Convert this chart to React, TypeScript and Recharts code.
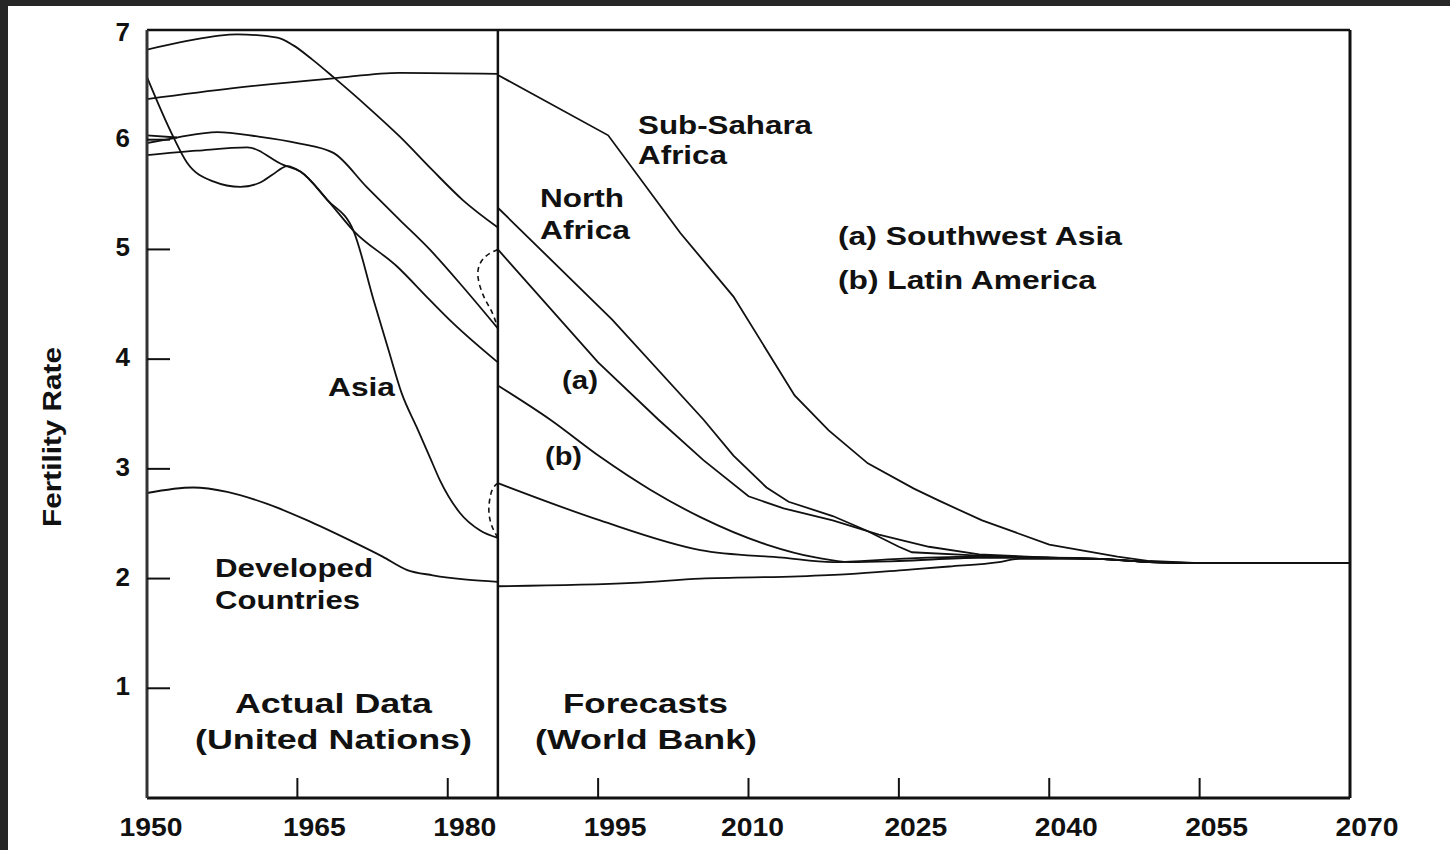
import React from 'react';
import { LineChart, Line, XAxis, YAxis, ReferenceLine, Customized } from 'recharts';

// ---------- data (year, fertility rate) ----------
const xTicks = [1950, 1965, 1980, 1995, 2010, 2025, 2040, 2055, 2070];
const yTicks = [1, 2, 3, 4, 5, 6, 7];

// Actual data (United Nations)
const naActYears = [1950, 1954, 1959, 1963, 1964.6, 1966.5, 1968.6, 1972, 1975.2, 1978.5, 1981.5, 1985];
const naAct = [6.82, 6.9, 6.96, 6.93, 6.86, 6.73, 6.57, 6.3, 6.03, 5.72, 5.45, 5.2];

const ssaActYears = [1950, 1958.6, 1968.6, 1975.2, 1985];
const ssaAct = [6.37, 6.47, 6.56, 6.61, 6.6];

const asiaActYears = [1950, 1952.6, 1954, 1956.6, 1959.3, 1961.3, 1962.5, 1964, 1965.3, 1968, 1970.6, 1972.6, 1974.1, 1975.4, 1976.9, 1978.2, 1979.2, 1981.2, 1983.2, 1985];
const asiaAct = [6.57, 6.03, 5.79, 5.62, 5.57, 5.61, 5.68, 5.76, 5.71, 5.45, 5.17, 4.54, 4.08, 3.69, 3.38, 3.11, 2.9, 2.6, 2.44, 2.37];

const laActYears = [1950, 1955, 1960, 1963.6, 1965.3, 1968, 1970.6, 1975, 1978.2, 1980.5, 1985];
const laAct = [5.86, 5.9, 5.93, 5.77, 5.71, 5.45, 5.17, 4.84, 4.54, 4.33, 3.97];

const swaActYears = [1950, 1953, 1957, 1961, 1965, 1968.6, 1971.9, 1975.2, 1978.2, 1981.5, 1985];
const swaAct = [5.97, 6.02, 6.07, 6.03, 5.97, 5.88, 5.57, 5.27, 5.0, 4.66, 4.28];

const swaAltYears = [1950, 1953];
const swaAlt = [6.04, 6.02];

const devActYears = [1950, 1954.6, 1958, 1962, 1966, 1970.2, 1973.5, 1975.9, 1978.5, 1981.9, 1985];
const devAct = [2.78, 2.83, 2.79, 2.68, 2.53, 2.35, 2.2, 2.08, 2.03, 1.99, 1.97];

// Forecasts (World Bank)
const ssaFcYears = [1985, 1996, 2003.2, 2008.5, 2014.6, 2018, 2021.9, 2026.5, 2029, 2033.3, 2040, 2046.8, 2050, 2055, 2070];
const ssaFc = [6.59, 6.04, 5.15, 4.57, 3.67, 3.35, 3.05, 2.82, 2.71, 2.53, 2.31, 2.2, 2.16, 2.14, 2.14];

const naFcYears = [1985, 1996.4, 2005.5, 2008.5, 2011.8, 2014, 2018.4, 2021.7, 2025, 2026.3, 2033, 2040, 2045, 2050, 2055, 2070];
const naFc = [5.38, 4.36, 3.45, 3.12, 2.83, 2.7, 2.57, 2.44, 2.29, 2.24, 2.21, 2.19, 2.18, 2.15, 2.14, 2.14];

const swaFcYears = [1985, 1995, 2001, 2005.5, 2010, 2013.5, 2018.4, 2023, 2028, 2033, 2040, 2045, 2050, 2055, 2070];
const swaFc = [5.0, 3.97, 3.45, 3.08, 2.75, 2.64, 2.53, 2.4, 2.29, 2.22, 2.19, 2.18, 2.15, 2.14, 2.14];

const laFcYears = [1985, 1990.2, 1995.2, 2000.2, 2005.2, 2011.8, 2016.8, 2020.1, 2025, 2033, 2040, 2045, 2050, 2055, 2070];
const laFc = [3.76, 3.45, 3.11, 2.81, 2.56, 2.31, 2.19, 2.15, 2.16, 2.19, 2.19, 2.18, 2.15, 2.14, 2.14];

const asiaFcYears = [1985, 1995.2, 2005.2, 2013.4, 2018.4, 2025, 2033, 2040, 2045, 2050, 2055, 2070];
const asiaFc = [2.87, 2.53, 2.26, 2.19, 2.15, 2.18, 2.2, 2.19, 2.18, 2.15, 2.14, 2.14];

const devFcYears = [1985, 1998.5, 2005.2, 2015, 2020, 2025.8, 2030, 2035, 2037, 2045, 2050, 2055, 2070];
const devFc = [1.93, 1.96, 2.0, 2.02, 2.04, 2.08, 2.11, 2.15, 2.18, 2.18, 2.15, 2.14, 2.14];

// dashed links between actual and forecast values
const swaLinkYears = [1985, 1983.7, 1983, 1983.6, 1984.4, 1985];
const swaLink = [5.0, 4.93, 4.78, 4.57, 4.43, 4.28];
const asiaLinkYears = [1985, 1984.4, 1984.1, 1984.4, 1985];
const asiaLink = [2.87, 2.8, 2.63, 2.48, 2.37];

const DIVIDER_YEAR = 1985;

// ---------- helpers ----------
const pts = (years: number[], vals: number[]) => years.map((year, i) => ({ year, v: vals[i] }));

const solidSeries = [
  { id: 'naAct', data: pts(naActYears, naAct), curve: 'monotone' },
  { id: 'ssaAct', data: pts(ssaActYears, ssaAct), curve: 'monotone' },
  { id: 'asiaAct', data: pts(asiaActYears, asiaAct), curve: 'monotone' },
  { id: 'laAct', data: pts(laActYears, laAct), curve: 'monotone' },
  { id: 'swaAct', data: pts(swaActYears, swaAct), curve: 'monotone' },
  { id: 'swaAlt', data: pts(swaAltYears, swaAlt), curve: 'monotone' },
  { id: 'devAct', data: pts(devActYears, devAct), curve: 'monotone' },
  { id: 'ssaFc', data: pts(ssaFcYears, ssaFc), curve: 'linear' },
  { id: 'naFc', data: pts(naFcYears, naFc), curve: 'linear' },
  { id: 'swaFc', data: pts(swaFcYears, swaFc), curve: 'linear' },
  { id: 'laFc', data: pts(laFcYears, laFc), curve: 'monotone' },
  { id: 'asiaFc', data: pts(asiaFcYears, asiaFc), curve: 'monotone' },
  { id: 'devFc', data: pts(devFcYears, devFc), curve: 'monotone' },
];
const dashedSeries = [
  { id: 'swaLink', data: pts(swaLinkYears, swaLink) },
  { id: 'asiaLink', data: pts(asiaLinkYears, asiaLink) },
];

const FONT = "'Liberation Sans', Arial, Helvetica, sans-serif";
const INK = '#111';

const annotations = [
  { t: 'Sub-Sahara', x: 638, y: 134, w: 174, s: 25 },
  { t: 'Africa', x: 638, y: 164, w: 89, s: 25 },
  { t: 'North', x: 540, y: 207, w: 84, s: 25 },
  { t: 'Africa', x: 540, y: 239, w: 90, s: 25 },
  { t: '(a) Southwest Asia', x: 838, y: 245, w: 284, s: 25 },
  { t: '(b) Latin America', x: 838, y: 289, w: 258, s: 25 },
  { t: '(a)', x: 562, y: 389, w: 36, s: 25 },
  { t: '(b)', x: 545, y: 465, w: 37, s: 25 },
  { t: 'Asia', x: 328, y: 396, w: 67, s: 25 },
  { t: 'Developed', x: 215, y: 577, w: 158, s: 25 },
  { t: 'Countries', x: 215, y: 609, w: 145, s: 25 },
  { t: 'Actual Data', x: 235, y: 713, w: 197, s: 28 },
  { t: '(United Nations)', x: 195, y: 749, w: 277, s: 28 },
  { t: 'Forecasts', x: 563, y: 713, w: 165, s: 28 },
  { t: '(World Bank)', x: 535, y: 749, w: 222, s: 28 },
];

const xLabelShift: Record<number, number> = { 1950: 4, 2010: 4 };

const XTick = (props: any) => {
  const { x, y, payload } = props;
  const axisY = y - 20;
  const v = payload.value;
  const dx = xLabelShift[v] ?? 17;
  return (
    <g>
      {v !== 1950 && v !== 2070 && (
        <line x1={x} x2={x} y1={axisY} y2={axisY - 20} stroke={INK} strokeWidth={2} />
      )}
      <text x={x + dx} y={y + 18} textAnchor="middle" fontFamily={FONT} fontWeight="bold" fontSize={25}
        textLength={63} lengthAdjust="spacingAndGlyphs" fill={INK}>
        {v}
      </text>
    </g>
  );
};

const YTickLeft = (props: any) => {
  const { x, y, payload } = props;
  const axisX = x + 17;
  const v = payload.value;
  return (
    <g>
      {v < 7 && <line x1={axisX} x2={axisX + 23} y1={y} y2={y} stroke={INK} strokeWidth={2} />}
      <text x={x} y={y + (v === 7 ? 11 : 7)} textAnchor="end" fontFamily={FONT} fontWeight="bold" fontSize={26} fill={INK}>
        {v}
      </text>
    </g>
  );
};

const YTickRight = (props: any) => {
  const { x, y } = props;
  return <line x1={x} x2={x - 20} y1={y} y2={y} stroke={INK} strokeWidth={2} />;
};

const Annotations = () => (
  <g>
    {annotations.map((a, i) => (
      <text key={i} x={a.x} y={a.y} fontFamily={FONT} fontWeight="bold" fontSize={a.s}
        textLength={a.w} lengthAdjust="spacingAndGlyphs" fill={INK}>
        {a.t}
      </text>
    ))}
    <text transform="translate(52,437) rotate(-90)" textAnchor="middle" y={9} fontFamily={FONT}
      fontWeight="bold" fontSize={25} textLength={180} lengthAdjust="spacingAndGlyphs" fill={INK}>
      Fertility Rate
    </text>
  </g>
);

export default function App() {
  return (
    <div style={{ position: 'absolute', left: 0, top: 0, width: 1450, height: 850, background: '#262626', overflow: 'hidden' }}>
      <div style={{ position: 'absolute', left: 8, top: 6, width: 1442, height: 844, background: '#fff' }} />
      <div style={{ position: 'absolute', left: 0, top: 0 }}>
        <LineChart width={1450} height={850} margin={{ top: 30, left: 87, right: 80, bottom: 12 }}>
          <XAxis
            type="number"
            dataKey="year"
            domain={[1950, 2070]}
            ticks={xTicks}
            allowDataOverflow
            height={40}
            tickSize={0}
            tickMargin={20}
            tickLine={false}
            axisLine={{ stroke: INK, strokeWidth: 3 }}
            tick={(p: any) => <XTick {...p} />}
            interval={0}
          />
          <YAxis
            type="number"
            domain={[0, 7]}
            ticks={yTicks}
            allowDataOverflow
            width={60}
            tickSize={0}
            tickMargin={17}
            tickLine={false}
            axisLine={{ stroke: '#333', strokeWidth: 3 }}
            tick={(p: any) => <YTickLeft {...p} />}
            interval={0}
          />
          <YAxis
            yAxisId="r"
            orientation="right"
            type="number"
            domain={[0, 7]}
            ticks={[1, 2, 3, 4, 5, 6]}
            width={20}
            tickSize={0}
            tickMargin={0}
            tickLine={false}
            axisLine={{ stroke: INK, strokeWidth: 3 }}
            tick={(p: any) => <YTickRight {...p} />}
            interval={0}
          />
          <ReferenceLine y={7} stroke={INK} strokeWidth={2.5} />
          <ReferenceLine x={DIVIDER_YEAR} stroke={INK} strokeWidth={2.5} />
          {solidSeries.map((s) => (
            <Line key={s.id} data={s.data} dataKey="v" type={s.curve as any} stroke={INK} strokeWidth={1.8}
              dot={false} activeDot={false} isAnimationActive={false} />
          ))}
          {dashedSeries.map((s) => (
            <Line key={s.id} data={s.data} dataKey="v" type="natural" stroke={INK} strokeWidth={1.6}
              strokeDasharray="5 4" dot={false} activeDot={false} isAnimationActive={false} />
          ))}
          <Customized component={Annotations} />
        </LineChart>
      </div>
    </div>
  );
}
